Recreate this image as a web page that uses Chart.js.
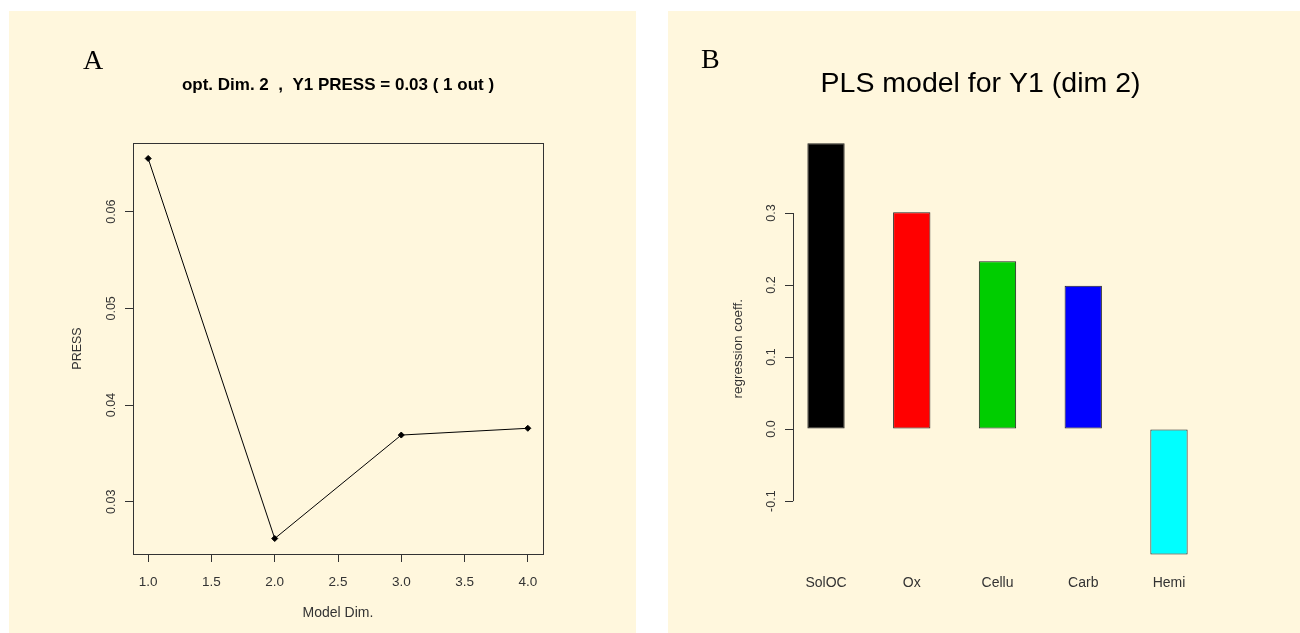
<!DOCTYPE html>
<html>
<head>
<meta charset="utf-8">
<script src="https://cdn.jsdelivr.net/npm/chart.js@4"></script>
<style>
  body { margin: 0; background: #fff; width: 1300px; height: 633px; position: relative; overflow: hidden; }
  canvas { position: absolute; background: #FFF7DD; }
  #chartA { left: 9px; top: 11px; }
  #chartB { left: 668px; top: 11px; }
</style>
</head>
<body>
<canvas id="chartA" width="627" height="622"></canvas>
<canvas id="chartB" width="632" height="622"></canvas>
<script>
// panel A - PRESS vs model dimension
let dims = [1, 2, 3, 4]
let pressValues = [0.0655, 0.0262, 0.0369, 0.0376]
let dimTicks = [1.0, 1.5, 2.0, 2.5, 3.0, 3.5, 4.0]
let pressTicks = [0.03, 0.04, 0.05, 0.06]

// panel B - regression coefficients
let variables = ["SolOC", "Ox", "Cellu", "Carb", "Hemi"]
let coefficients = [0.397, 0.301, 0.233, 0.199, -0.174]
let barColors = ["#000000", "#FF0000", "#00CD00", "#0000FF", "#00FFFF"]
let coeffTicks = [-0.1, 0.0, 0.1, 0.2, 0.3]

let sans = '"Liberation Sans", Arial, sans-serif'
let ink = '#333'

let panelDecor = {
  id: 'panelDecor',
  afterDraw(chart, args, opts) {
    let ctx = chart.ctx
    let a = chart.chartArea
    ctx.save()
    ctx.fillStyle = '#000'
    ctx.font = '28px "Liberation Serif", "Times New Roman", serif'
    ctx.textBaseline = 'alphabetic'
    ctx.fillText(opts.letter, opts.lx, opts.ly)
    ctx.strokeStyle = ink
    ctx.lineWidth = 1
    if (opts.box) {
      ctx.strokeRect(Math.round(a.left) + 0.5, Math.round(a.top) + 0.5, Math.round(a.right - a.left), Math.round(a.bottom - a.top))
    }
    if (opts.axisLine) {
      let y = chart.scales.y
      let x = Math.round(a.left) + 0.5
      ctx.beginPath()
      ctx.moveTo(x, y.getPixelForValue(opts.axisLine[0]))
      ctx.lineTo(x, y.getPixelForValue(opts.axisLine[1]))
      ctx.stroke()
    }
    ctx.restore()
  }
}

Chart.defaults.font.family = sans
Chart.defaults.color = ink

new Chart(document.getElementById("chartA"), {
  type: 'line',
  data: {
    datasets: [{
      data: dims.map((d, i) => ({ x: d, y: pressValues[i] })),
      borderColor: '#000',
      borderWidth: 1,
      backgroundColor: '#000',
      pointStyle: 'rectRot',
      pointRadius: 3,
      tension: 0,
      fill: false
    }]
  },
  options: {
    responsive: false,
    animation: false,
    devicePixelRatio: 1,
    layout: { padding: { left: 0, right: 93, top: 0, bottom: 0 } },
    plugins: {
      legend: { display: false },
      tooltip: { enabled: false },
      title: {
        display: true,
        fullSize: false,
        text: 'opt. Dim. 2  ,  Y1 PRESS = 0.03 ( 1 out )',
        color: '#000',
        font: { size: 17, weight: 'bold', family: sans },
        padding: { top: 64.3, bottom: 47.3 }
      },
      panelDecor: { letter: 'A', lx: 74, ly: 58, box: true }
    },
    scales: {
      x: {
        type: 'linear',
        min: 0.88,
        max: 4.12,
        afterBuildTicks: s => { s.ticks = dimTicks.map(v => ({ value: v })) },
        afterFit: s => { s.height = 79 },
        grid: { drawOnChartArea: false, drawTicks: true, tickLength: 8, color: ink },
        border: { display: false },
        ticks: { autoSkip: false, padding: 12, font: { size: 13.5 }, callback: v => v.toFixed(1) },
        title: { display: true, text: 'Model Dim.', font: { size: 14 }, padding: { top: 0, bottom: 11.6 } }
      },
      y: {
        min: 0.0246,
        max: 0.0671,
        afterBuildTicks: s => { s.ticks = pressTicks.map(v => ({ value: v })) },
        afterFit: s => { s.width = 124 },
        grid: { drawOnChartArea: false, drawTicks: true, tickLength: 8, color: ink },
        border: { display: false },
        ticks: { autoSkip: false, minRotation: 90, maxRotation: 90, crossAlign: 'center', padding: 1.5, font: { size: 12.5 }, callback: v => v.toFixed(2) },
        title: { display: true, text: 'PRESS', font: { size: 12.5 }, padding: { top: 61.5, bottom: 0 } }
      }
    }
  },
  plugins: [panelDecor]
})

new Chart(document.getElementById("chartB"), {
  type: 'bar',
  data: {
    datasets: [{
      data: coefficients.map((c, i) => ({ x: i + 1, y: c })),
      backgroundColor: barColors,
      borderColor: '#222',
      borderWidth: 1,
      borderSkipped: false,
      categoryPercentage: 1,
      barPercentage: 0.435
    }]
  },
  options: {
    responsive: false,
    animation: false,
    devicePixelRatio: 1,
    layout: { padding: { left: 0, right: 7, top: 0, bottom: 0 } },
    plugins: {
      legend: { display: false },
      tooltip: { enabled: false },
      title: {
        display: true,
        text: 'PLS model for Y1 (dim 2)',
        color: '#000',
        font: { size: 28.5, weight: 'normal', family: sans },
        padding: { top: 56, bottom: 25.4 }
      },
      panelDecor: { letter: 'B', lx: 33, ly: 57, axisLine: [0.3, -0.1] }
    },
    scales: {
      x: {
        type: 'linear',
        offset: false,
        min: 0.615,
        max: 5.385,
        afterBuildTicks: s => { s.ticks = variables.map((v, i) => ({ value: i + 1 })) },
        afterFit: s => { s.height = 62 },
        grid: { display: false, drawTicks: false },
        border: { display: false },
        ticks: { autoSkip: false, padding: 3.5, font: { size: 14 }, callback: v => variables[v - 1] }
      },
      y: {
        min: -0.197,
        max: 0.42,
        afterBuildTicks: s => { s.ticks = coeffTicks.map(v => ({ value: v })) },
        afterFit: s => { s.width = 125 },
        grid: { drawOnChartArea: false, drawTicks: true, tickLength: 8, color: ink },
        border: { display: false },
        ticks: { autoSkip: false, minRotation: 90, maxRotation: 90, crossAlign: 'center', padding: 3, font: { size: 12.5 }, callback: v => v.toFixed(1) },
        title: { display: true, text: 'regression coeff.', font: { size: 13.5 }, padding: { top: 62, bottom: 0 } }
      },
      // empty right margin so the title centres like the original
      yr: {
        position: 'right',
        min: 0,
        max: 1,
        afterFit: s => { s.width = 91 },
        grid: { display: false, drawTicks: false },
        border: { display: false },
        ticks: { display: false }
      }
    }
  },
  plugins: [panelDecor]
})
</script>
</body>
</html>
